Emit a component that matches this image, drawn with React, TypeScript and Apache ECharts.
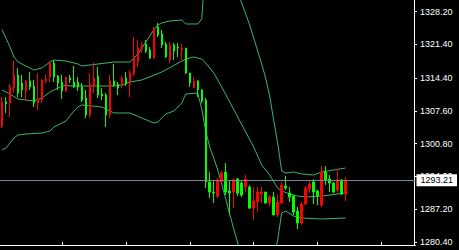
import React, { useEffect, useRef } from "react";
import * as echarts from "echarts";

// candle values, index 0..86 (red = rising, lime = falling)
const opens = [
  1304.47, 1309.52, 1309.25, 1312.36, 1315.06, 1313.40, 1311.74, 1313.81, 1312.78, 1309.25,
  1309.87, 1313.81, 1314.64, 1317.55, 1314.85, 1313.61, 1311.74, 1314.44, 1313.61, 1313.61,
  1312.57, 1310.29, 1306.76, 1312.78, 1314.85, 1311.12, 1310.91, 1306.76, 1313.81, 1313.19,
  1312.78, 1314.44, 1313.19, 1315.27, 1317.76, 1320.46, 1321.50, 1320.25, 1318.59, 1325.03,
  1323.57, 1321.50, 1318.17, 1321.29, 1320.87, 1320.25, 1320.67, 1315.48, 1312.36, 1313.81,
  1311.95, 1309.87, 1292.85, 1290.77, 1289.94, 1292.85, 1294.92, 1290.98, 1290.77, 1293.47,
  1292.64, 1291.81, 1291.81, 1287.45, 1288.69, 1290.36, 1290.77, 1288.49, 1289.73, 1286.00,
  1288.49, 1292.02, 1290.56, 1289.94, 1286.83, 1284.34, 1288.28, 1291.39, 1292.85, 1290.98,
  1288.07, 1294.92, 1293.47, 1292.64, 1291.19, 1293.26, 1290.36,
];
const closes = [
  1309.52, 1309.04, 1312.57, 1315.06, 1311.32, 1311.95, 1313.81, 1312.57, 1309.25, 1310.08,
  1314.02, 1314.23, 1317.55, 1314.64, 1313.40, 1311.74, 1314.64, 1314.02, 1312.57, 1312.57,
  1309.87, 1306.76, 1313.19, 1314.44, 1310.91, 1310.70, 1306.76, 1313.81, 1312.98, 1312.36,
  1314.44, 1313.19, 1315.48, 1319.00, 1320.67, 1321.29, 1320.04, 1318.59, 1324.82, 1323.36,
  1321.29, 1318.80, 1321.29, 1320.04, 1320.67, 1320.67, 1315.48, 1313.40, 1313.81, 1311.95,
  1309.66, 1292.85, 1290.77, 1290.56, 1293.26, 1294.72, 1290.77, 1290.56, 1293.26, 1290.56,
  1290.15, 1293.47, 1287.45, 1288.90, 1290.77, 1290.77, 1288.49, 1289.73, 1286.00, 1288.69,
  1292.22, 1291.60, 1289.73, 1286.62, 1284.34, 1288.28, 1291.60, 1292.43, 1290.77, 1289.94,
  1294.92, 1293.26, 1292.64, 1290.77, 1293.26, 1290.36, 1293.21,
];
const lows = [
  1304.06, 1307.17, 1306.34, 1311.32, 1310.49, 1310.49, 1309.87, 1311.95, 1308.42, 1307.79,
  1309.25, 1313.40, 1313.61, 1313.61, 1311.95, 1310.08, 1311.53, 1313.40, 1312.36, 1311.74,
  1309.45, 1306.13, 1306.13, 1311.32, 1310.29, 1309.87, 1304.27, 1306.13, 1312.57, 1310.91,
  1312.36, 1312.78, 1310.49, 1314.85, 1316.72, 1319.63, 1319.63, 1318.38, 1318.38, 1322.95,
  1320.67, 1318.59, 1317.55, 1318.17, 1318.80, 1318.17, 1315.27, 1312.57, 1312.36, 1310.49,
  1309.25, 1291.60, 1289.53, 1288.49, 1289.53, 1292.64, 1290.15, 1286.00, 1287.45, 1289.94,
  1289.73, 1290.77, 1287.24, 1284.96, 1286.62, 1288.49, 1288.28, 1287.86, 1286.00, 1285.58,
  1288.28, 1291.19, 1288.69, 1286.00, 1283.09, 1283.92, 1288.07, 1290.56, 1288.28, 1288.07,
  1287.66, 1292.22, 1290.77, 1290.56, 1290.56, 1290.15, 1288.90,
];
const highs = [
  1310.56, 1310.49, 1313.19, 1317.97, 1316.51, 1315.06, 1314.02, 1315.68, 1314.02, 1315.48,
  1314.23, 1315.06, 1317.97, 1318.17, 1315.06, 1315.06, 1314.64, 1315.06, 1316.93, 1314.64,
  1313.40, 1311.95, 1315.48, 1317.66, 1316.72, 1312.36, 1311.32, 1315.06, 1317.34, 1313.61,
  1314.85, 1315.68, 1316.10, 1322.95, 1322.33, 1321.91, 1322.33, 1320.87, 1325.03, 1325.86,
  1324.40, 1321.91, 1321.91, 1321.70, 1321.70, 1321.50, 1320.67, 1315.48, 1314.64, 1314.02,
  1312.15, 1310.29, 1294.92, 1293.05, 1293.68, 1295.13, 1296.79, 1293.26, 1293.68, 1293.68,
  1293.05, 1294.30, 1292.22, 1291.81, 1291.81, 1291.81, 1290.77, 1290.15, 1290.77, 1290.36,
  1292.85, 1294.09, 1291.81, 1290.15, 1287.66, 1288.69, 1292.02, 1293.26, 1293.47, 1291.19,
  1296.17, 1296.17, 1294.30, 1292.85, 1295.55, 1293.47, 1293.88,
];

// Bollinger band readings: [candle index, price]
const upperBand: [number, number][] = [
  [0, 1324.51], [2, 1320.88], [3, 1318.8], [4, 1317.76], [5, 1317.35], [8, 1316.1], [10, 1316.52],
  [12, 1317.76], [13, 1318.18], [16, 1317.97], [19, 1317.35], [20, 1316.93], [28, 1317.76],
  [32, 1317.76], [33, 1318.59], [34, 1319.42], [35, 1320.67], [36, 1321.91], [37, 1323.16],
  [38, 1324.4], [39, 1325.44], [40, 1325.86], [42, 1326.27], [45, 1326.48], [46, 1325.65],
  [49, 1325.65], [50, 1326.69], [51, 1338.93], [52, 1341.01], [53, 1342.05], [54, 1342.05],
  [55, 1341.01], [56, 1339.35], [57, 1336.86], [58, 1334.57], [59, 1332.29], [60, 1330.01],
  [61, 1327.72], [62, 1325.44], [63, 1322.74], [64, 1320.04], [65, 1317.35], [66, 1314.44],
  [67, 1310.71], [68, 1305.72], [69, 1300.95], [70, 1295.14], [71, 1294.72], [73, 1294.93],
  [75, 1294.52], [78, 1294.31], [80, 1294.93], [83, 1295.35], [86, 1295.76],
];
const middleBand: [number, number][] = [
  [0, 1311.95], [2, 1311.12], [4, 1310.08], [8, 1309.67], [10, 1310.29], [12, 1311.54],
  [14, 1312.37], [16, 1312.99], [17, 1312.78], [28, 1312.78], [30, 1312.99], [32, 1313.61],
  [35, 1314.03], [40, 1315.69], [46, 1318.38], [48, 1318.8], [50, 1318.38], [51, 1317.55],
  [53, 1315.48], [55, 1312.57], [57, 1309.46], [59, 1306.35], [61, 1303.23], [63, 1300.12],
  [65, 1296.38], [67, 1294.31], [69, 1291.61], [70, 1290.99], [72, 1290.37], [74, 1289.95],
  [76, 1289.74], [80, 1289.95], [86, 1290.57],
];
const lowerBand: [number, number][] = [
  [0, 1299.5], [1, 1299.91], [3, 1301.99], [4, 1302.61], [6, 1302.82], [10, 1303.03],
  [12, 1303.44], [13, 1304.27], [15, 1305.1], [16, 1305.52], [17, 1306.55], [18, 1307.59],
  [19, 1308.42], [20, 1308.84], [25, 1308.42], [27, 1307.59], [28, 1307.18], [32, 1307.18],
  [35, 1306.14], [38, 1305.1], [39, 1305.31], [41, 1306.97], [43, 1307.59], [45, 1309.25],
  [46, 1311.12], [49, 1311.33], [50, 1308.01], [51, 1303.44], [52, 1300.12], [53, 1297.84],
  [54, 1295.35], [55, 1292.44], [56, 1289.33], [57, 1286.21], [58, 1283.1], [59, 1280.2],
  [60, 1277.5], [62, 1275.63], [65, 1274.59], [67, 1275.63], [68, 1277.29], [69, 1280.82],
  [70, 1286.42], [71, 1286.84], [73, 1285.8], [75, 1285.38], [80, 1285.18], [86, 1285.38],
];

const priceTicks = [1328.2, 1321.4, 1314.4, 1307.6, 1300.8, 1294.0, 1287.2, 1280.4];
const lastPrice = 1293.21;
const slotCount = 104;
const slots = Array.from({ length: slotCount }, (_, i) => String(i));

export default function App() {
  const ref = useRef<HTMLDivElement>(null);
  useEffect(() => {
    if (!ref.current) return;
    const chart = echarts.init(ref.current, null, { renderer: "svg" });
    const candles = opens.map((o, i) => [o, closes[i], lows[i], highs[i]]);
    const bandStyle = { color: "#3cb371", width: 1 };
    chart.setOption({
      animation: false,
      backgroundColor: "#000000",
      grid: { left: -0.5, right: 43.5, top: 0, bottom: 5, containLabel: false },
      xAxis: {
        type: "category",
        data: slots,
        boundaryGap: true,
        axisLine: { show: true, lineStyle: { color: "#ffffff", width: 1 } },
        axisTick: {
          show: true,
          alignWithLabel: true,
          inside: true,
          length: 3,
          interval: (index: number) => index % 16 === 15,
          lineStyle: { color: "#ffffff", width: 1 },
        },
        axisLabel: { show: false },
        splitLine: { show: false },
      },
      yAxis: {
        type: "value",
        position: "right",
        offset: -1.5,
        min: 1279.78,
        max: 1330.63,
        scale: true,
        axisLine: { show: true, lineStyle: { color: "#ffffff", width: 1 } },
        axisTick: {
          show: true,
          length: 3,
          customValues: priceTicks,
          lineStyle: { color: "#ffffff", width: 1 },
        },
        axisLabel: {
          show: true,
          customValues: priceTicks,
          margin: 6,
          color: "#ffffff",
          fontSize: 9,
          fontFamily: "Liberation Sans",
          formatter: (v: number) => v.toFixed(2),
        },
        splitLine: { show: false },
      },
      series: [
        { type: "line", data: upperBand, symbol: "none", lineStyle: bandStyle, silent: true, z: 1 },
        { type: "line", data: middleBand, symbol: "none", lineStyle: bandStyle, silent: true, z: 1 },
        { type: "line", data: lowerBand, symbol: "none", lineStyle: bandStyle, silent: true, z: 1 },
        {
          type: "candlestick",
          data: candles,
          barWidth: 2,
          z: 3,
          itemStyle: {
            color: "#ff0000",
            color0: "#00ff00",
            borderColor: "#ff0000",
            borderColor0: "#00ff00",
            borderWidth: 1,
          },
          markLine: {
            silent: true,
            symbol: ["none", "none"],
            animation: false,
            lineStyle: { color: "#778899", type: "solid", width: 1 },
            label: {
              show: true,
              position: "end",
              distance: 1,
              formatter: lastPrice.toFixed(2),
              backgroundColor: "#ffffff",
              color: "#000000",
              fontSize: 9,
              fontFamily: "Liberation Sans",
              padding: [2, 4, 1, 4],
            },
            data: [{ yAxis: lastPrice }],
          },
        },
      ],
    });
    return () => chart.dispose();
  }, []);
  return (
    <div
      ref={ref}
      style={{ position: "absolute", left: 0, top: 0, width: 459, height: 250, background: "#000" }}
    />
  );
}
